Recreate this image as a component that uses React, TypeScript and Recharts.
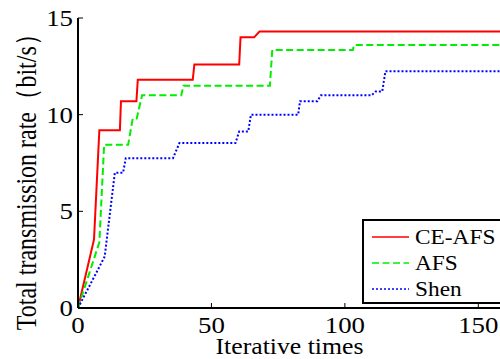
import React from "react";
import {
  LineChart,
  Line,
  XAxis,
  YAxis,
  Label,
} from "recharts";

// CE-AFS
const ceAfsIter = [0, 6, 8, 15.7, 16.1, 21.9, 22.4, 43, 43.6, 60.4, 60.9, 66, 68, 160];
const ceAfsRate = [0, 3.55, 9.2, 9.2, 10.7, 10.7, 11.8, 11.8, 12.6, 12.6, 14.0, 14.0, 14.3, 14.3];

// AFS
const afsIter = [0, 8, 9.8, 18.8, 20.5, 22, 24, 38.7, 39.5, 71.9, 72.8, 103, 103.4, 160];
const afsRate = [0, 3.4, 8.45, 8.45, 9.8, 9.8, 11.0, 11.0, 11.5, 11.5, 13.35, 13.35, 13.6, 13.6];

// Shen
const shenIter = [0, 10, 13.8, 16.9, 17.9, 35.6, 38, 59, 60.4, 63.8, 64.8, 82.5, 83.2, 89.7, 91, 110, 111.5, 114, 115.2, 160];
const shenRate = [0, 2.66, 7.0, 7.0, 7.75, 7.75, 8.53, 8.53, 9.13, 9.13, 10.0, 10.0, 10.7, 10.7, 11.0, 11.0, 11.2, 11.2, 12.25, 12.25];

const xTicks = [0, 50, 100, 150];
const yTicks = [0, 5, 10, 15];

const zip = (xs: number[], ys: number[]) => xs.map((x, i) => ({ iter: x, rate: ys[i] }));

const series = [
  { name: "CE-AFS", color: "#ff0000", dash: undefined as string | undefined, data: zip(ceAfsIter, ceAfsRate) },
  { name: "AFS", color: "#00ee00", dash: "7 3.5", data: zip(afsIter, afsRate) },
  { name: "Shen", color: "#0000ff", dash: "2 2", data: zip(shenIter, shenRate) },
];

const FONT = "Liberation Serif, Times New Roman, serif";
// the original figure is a little wider than tall, text included
const SX = 1.12;

const XTick = ({ x, y, payload }: any) => (
  <text
    transform={`translate(${x} ${y + 25}) scale(${SX} 1)`}
    textAnchor="middle"
    fontFamily={FONT}
    fontSize={24}
    fill="#000"
  >
    {payload.value}
  </text>
);

const YTick = ({ x, y, payload }: any) => (
  <text
    transform={`translate(${x} ${y + 8}) scale(${SX} 1)`}
    textAnchor="end"
    fontFamily={FONT}
    fontSize={24}
    fill="#000"
  >
    {payload.value}
  </text>
);

const NoTick = () => <g />;

const LegendBox = () => (
  <div
    style={{
      position: "absolute",
      left: 362,
      top: 219,
      boxSizing: "border-box",
      width: 150,
      height: 85,
      border: "2px solid #000",
      background: "#fff",
      paddingTop: 3,
      fontFamily: FONT,
      fontSize: 22,
      color: "#000",
    }}
  >
    {series.map((s) => (
      <div key={s.name} style={{ display: "flex", alignItems: "center", height: 26 }}>
        <svg width={51} height={26} style={{ flex: "none" }}>
          <line x1={8} y1={13} x2={45} y2={13} stroke={s.color} strokeWidth={1.5} strokeDasharray={s.dash} />
        </svg>
        <span style={{ lineHeight: "26px", display: "inline-block", transform: "scaleX(1.06)", transformOrigin: "left center" }}>
          {s.name}
        </span>
      </div>
    ))}
  </div>
);

export default function App() {
  return (
    <div style={{ position: "absolute", left: 0, top: 0, width: 500, height: 359, overflow: "hidden", background: "#fff" }}>
      <LineChart width={520} height={359} margin={{ top: 18, right: 15, bottom: 0, left: 18 }}>
        <XAxis
          xAxisId="top"
          orientation="top"
          type="number"
          dataKey="iter"
          domain={[0, 160]}
          ticks={xTicks}
          allowDataOverflow
          height={0}
          axisLine={{ stroke: "#000", strokeWidth: 2 }}
          tickLine={{ stroke: "#000", strokeWidth: 1 }}
          tickSize={-5}
          tick={NoTick}
        />
        <XAxis
          type="number"
          dataKey="iter"
          domain={[0, 160]}
          ticks={xTicks}
          allowDataOverflow
          height={51}
          axisLine={{ stroke: "#000", strokeWidth: 2 }}
          tickLine={{ stroke: "#000", strokeWidth: 1 }}
          tickSize={-5}
          tickMargin={5}
          tick={XTick}
        >
          <Label
            content={({ viewBox }: any) => (
              <text
                transform={`translate(${viewBox.x + viewBox.width / 2 - 2} ${viewBox.y + 46}) scale(${SX} 1)`}
                textAnchor="middle"
                fontFamily={FONT}
                fontSize={23}
                fill="#000"
              >
                Iterative times
              </text>
            )}
          />
        </XAxis>
        <YAxis
          type="number"
          domain={[0, 15]}
          ticks={yTicks}
          width={60}
          axisLine={{ stroke: "#000", strokeWidth: 2 }}
          tickLine={{ stroke: "#000", strokeWidth: 1 }}
          tickSize={-5}
          tickMargin={10}
          tick={YTick}
        >
          <Label
            content={() => (
              <text
                transform={`translate(36 176) scale(1.2 1) rotate(-90)`}
                textAnchor="middle"
                fontFamily={FONT}
                fontSize={24}
                fill="#000"
              >
                Total transmission rate（bit/s）
              </text>
            )}
          />
        </YAxis>
        {series.map((s) => (
          <Line
            key={s.name}
            data={s.data}
            dataKey="rate"
            name={s.name}
            type="linear"
            stroke={s.color}
            strokeWidth={2}
            strokeDasharray={s.dash}
            dot={false}
            activeDot={false}
            isAnimationActive={false}
          />
        ))}
      </LineChart>
      <LegendBox />
    </div>
  );
}
